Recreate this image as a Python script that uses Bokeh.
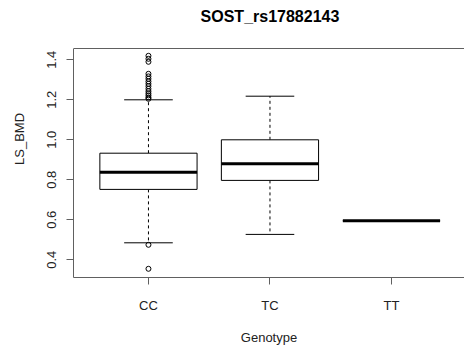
from bokeh.plotting import figure
from bokeh.models import Range1d, FixedTicker, Span, Label
from bokeh.embed import file_html
from bokeh.resources import INLINE

# ---- data ----
title_text = "SOST_rs17882143"
genotypes = ["CC", "TC", "TT"]
lower_whisker = [0.485, 0.527, 0.595]
q1 = [0.752, 0.797, 0.595]
median = [0.838, 0.880, 0.595]
q3 = [0.933, 1.000, 0.595]
upper_whisker = [1.200, 1.218, 0.595]
outlier_group = ["CC"] * 17
outlier_values = [1.42, 1.405, 1.39, 1.33, 1.317, 1.305, 1.292, 1.28, 1.268,
                  1.255, 1.243, 1.232, 1.222, 1.212, 1.205, 0.475, 0.355]
y_ticks = [0.4, 0.6, 0.8, 1.0, 1.2, 1.4]

FONT = "Liberation Sans"
xs = [i + 1 for i in range(len(genotypes))]
pos = {g: i + 1 for i, g in enumerate(genotypes)}
ox = [pos[g] for g in outlier_group]
box_w = 0.8
staple_w = 0.4
Y0, Y1 = 0.3115, 1.4565          # plot box limits
PX = 1 / 200.0                   # data units per pixel vertically
Y_TOP = Y1 + 48 * PX             # frame extends to canvas top (title space)

p = figure(width=464, height=349, output_backend="svg", toolbar_location=None,
           x_range=Range1d(0.383, 3.601), y_range=Range1d(Y0, Y_TOP),
           min_border_left=73, min_border_right=0, min_border_top=0,
           min_border_bottom=72)
p.outline_line_color = None
p.xgrid.visible = False
p.ygrid.visible = False
p.background_fill_color = "white"
p.border_fill_color = "white"

# title, centred on the plot region (R style)
p.add_layout(Label(x=2.0, y=Y1 + 32 * PX, x_units="data", y_units="data",
                   text=title_text, text_align="center", text_baseline="middle",
                   text_font=FONT, text_font_size="16px", text_font_style="bold",
                   text_color="black"))

frame_col = "#606060"
for ax in (p.xaxis[0], p.yaxis[0]):
    ax.axis_line_color = frame_col
    ax.major_tick_line_color = frame_col
    ax.major_tick_out = 7
    ax.major_tick_in = 0
    ax.minor_tick_line_color = None
    ax.major_label_text_font = FONT
    ax.major_label_text_font_size = "13px"
    ax.major_label_text_color = "#222222"
    ax.axis_label_text_font = FONT
    ax.axis_label_text_font_size = "13px"
    ax.axis_label_text_font_style = "normal"
    ax.axis_label_text_color = "#222222"

p.xaxis.ticker = FixedTicker(ticks=xs)
p.xaxis.major_label_overrides = {x: g for x, g in zip(xs, genotypes)}
p.xaxis.axis_label = "Genotype"
p.xaxis.major_label_standoff = 13
p.xaxis.axis_label_standoff = 14

p.yaxis.ticker = FixedTicker(ticks=y_ticks)
p.yaxis.bounds = (Y0, Y1)
p.yaxis.major_label_overrides = {t: f"{t:.1f}" for t in y_ticks}
p.yaxis.major_label_orientation = "vertical"
p.yaxis.axis_label = "LS_BMD"
p.yaxis.major_label_standoff = 10
p.yaxis.axis_label_standoff = 18

# top border of the plot box
p.add_layout(Span(location=Y1, dimension="width", line_color=frame_col, line_width=1))

# whiskers (dashed)
p.segment(x0=xs, y0=q3, x1=xs, y1=upper_whisker, line_color="black", line_width=1, line_dash="3 3")
p.segment(x0=xs, y0=q1, x1=xs, y1=lower_whisker, line_color="black", line_width=1, line_dash="3 3")
# staples
p.segment(x0=[x - staple_w / 2 for x in xs], y0=upper_whisker,
          x1=[x + staple_w / 2 for x in xs], y1=upper_whisker, line_color="black", line_width=1)
p.segment(x0=[x - staple_w / 2 for x in xs], y0=lower_whisker,
          x1=[x + staple_w / 2 for x in xs], y1=lower_whisker, line_color="black", line_width=1)
# boxes
p.vbar(x=xs, width=box_w, bottom=q1, top=q3, fill_color="white", line_color="black", line_width=1)
# medians
p.segment(x0=[x - box_w / 2 for x in xs], y0=median,
          x1=[x + box_w / 2 for x in xs], y1=median, line_color="black", line_width=3)
# outliers
p.scatter(x=ox, y=outlier_values, marker="circle", size=5, fill_color=None,
          line_color="black", line_width=1)

open("out.html", "w").write(file_html(p, INLINE))
